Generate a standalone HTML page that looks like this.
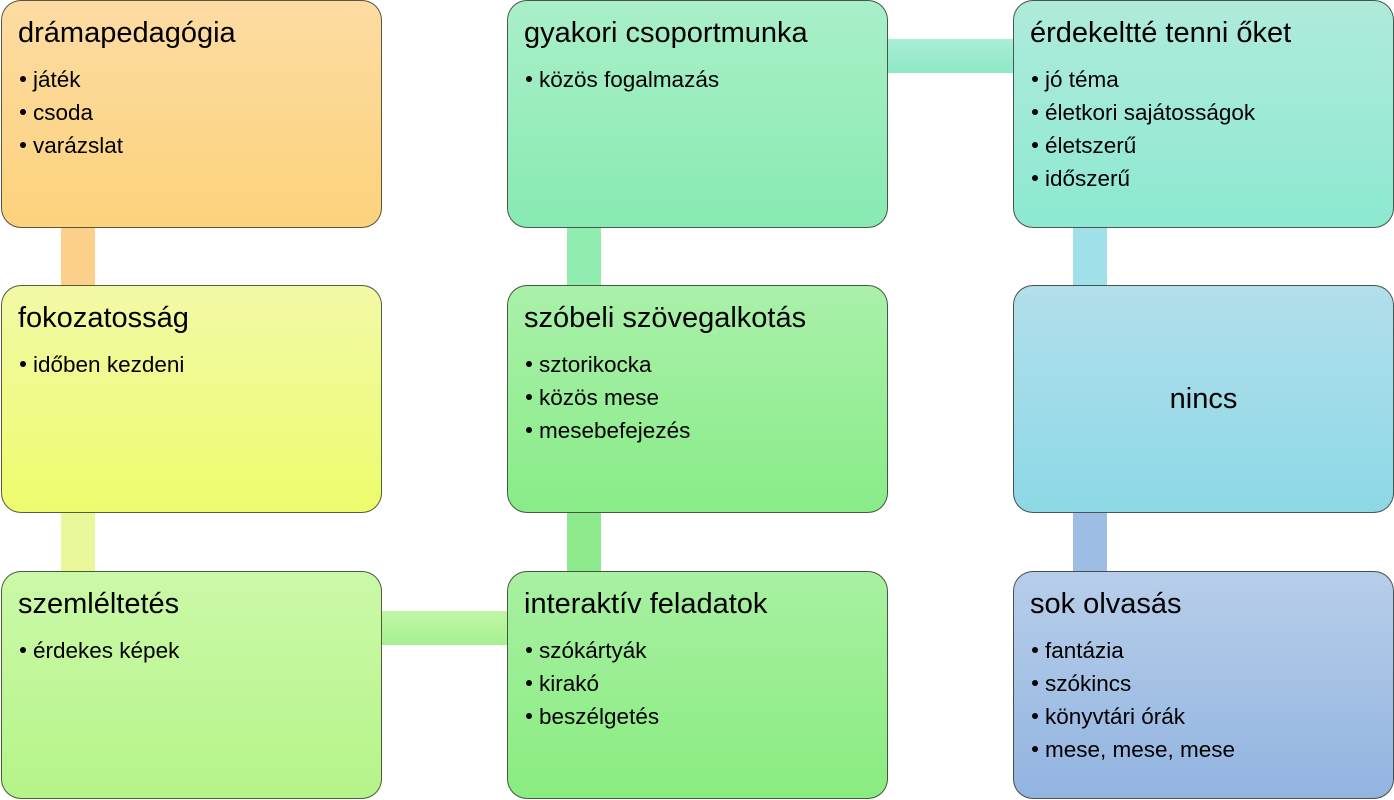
<!DOCTYPE html>
<html>
<head>
<meta charset="utf-8">
<style>
  html,body{margin:0;padding:0;}
  body{width:1394px;height:800px;position:relative;background:#ffffff;overflow:hidden;
       font-family:"Liberation Sans","DejaVu Sans",sans-serif;color:#000;}
  .c{position:absolute;}
  .box{position:absolute;box-sizing:border-box;width:381px;height:228px;border:1px solid rgba(50,50,40,0.8);
       border-radius:20px;}
  .t{position:absolute;left:16px;top:15px;font-size:29px;line-height:34px;white-space:nowrap;}
  .ul{position:absolute;left:17px;top:62px;font-size:22.5px;line-height:33px;white-space:nowrap;}
  .ul div{position:relative;padding-left:14px;}
  .ul div:before{content:"";position:absolute;left:1px;top:13px;width:6px;height:6px;border-radius:50%;background:#000;}
</style>
</head>
<body>
<!-- connectors -->
<div class="c" style="left:61px;top:226px;width:34px;height:62px;background:#fcd08a;"></div>
<div class="c" style="left:61px;top:511px;width:34px;height:62px;background:#e8f89a;"></div>
<div class="c" style="left:379px;top:611px;width:130px;height:34px;background:linear-gradient(#c2f7a4,#a6f092);"></div>
<div class="c" style="left:567px;top:226px;width:34px;height:62px;background:#90ecaf;"></div>
<div class="c" style="left:567px;top:511px;width:34px;height:62px;background:#8ce98c;"></div>
<div class="c" style="left:885px;top:39px;width:130px;height:34px;background:linear-gradient(#a8eed6,#8ee9c4);"></div>
<div class="c" style="left:1073px;top:226px;width:34px;height:62px;background:#a0e0e8;"></div>
<div class="c" style="left:1073px;top:511px;width:34px;height:62px;background:#9ebde4;"></div>

<!-- row 1 -->
<div class="box" style="left:1px;top:0px;background:linear-gradient(#fddca3,#fcd27b);">
  <div class="t">drámapedagógia</div>
  <div class="ul"><div>játék</div><div>csoda</div><div>varázslat</div></div>
</div>
<div class="box" style="left:507px;top:0px;background:linear-gradient(#a9efc9,#88eab1);">
  <div class="t">gyakori csoportmunka</div>
  <div class="ul"><div>közös fogalmazás</div></div>
</div>
<div class="box" style="left:1013px;top:0px;background:linear-gradient(#afeadb,#8de9d1);">
  <div class="t">érdekeltté tenni őket</div>
  <div class="ul"><div>jó téma</div><div>életkori sajátosságok</div><div>életszerű</div><div>időszerű</div></div>
</div>

<!-- row 2 -->
<div class="box" style="left:1px;top:285px;background:linear-gradient(#f2f9a6,#edfc6d);">
  <div class="t">fokozatosság</div>
  <div class="ul"><div>időben kezdeni</div></div>
</div>
<div class="box" style="left:507px;top:285px;background:linear-gradient(#aaf0aa,#88ec88);">
  <div class="t">szóbeli szövegalkotás</div>
  <div class="ul"><div>sztorikocka</div><div>közös mese</div><div>mesebefejezés</div></div>
</div>
<div class="box" style="left:1013px;top:285px;background:linear-gradient(#b2dfeb,#8dd8e6);">
  <div style="position:absolute;left:0;right:0;top:96px;text-align:center;font-size:29px;line-height:34px;">nincs</div>
</div>

<!-- row 3 -->
<div class="box" style="left:1px;top:571px;background:linear-gradient(#cbf9a8,#b5f489);">
  <div class="t">szemléltetés</div>
  <div class="ul"><div>érdekes képek</div></div>
</div>
<div class="box" style="left:507px;top:571px;background:linear-gradient(#a8f0a2,#89ec80);">
  <div class="t">interaktív feladatok</div>
  <div class="ul"><div>szókártyák</div><div>kirakó</div><div>beszélgetés</div></div>
</div>
<div class="box" style="left:1013px;top:571px;background:linear-gradient(#b7ceea,#92b4e0);">
  <div class="t">sok olvasás</div>
  <div class="ul"><div>fantázia</div><div>szókincs</div><div>könyvtári órák</div><div>mese, mese, mese</div></div>
</div>
</body>
</html>
